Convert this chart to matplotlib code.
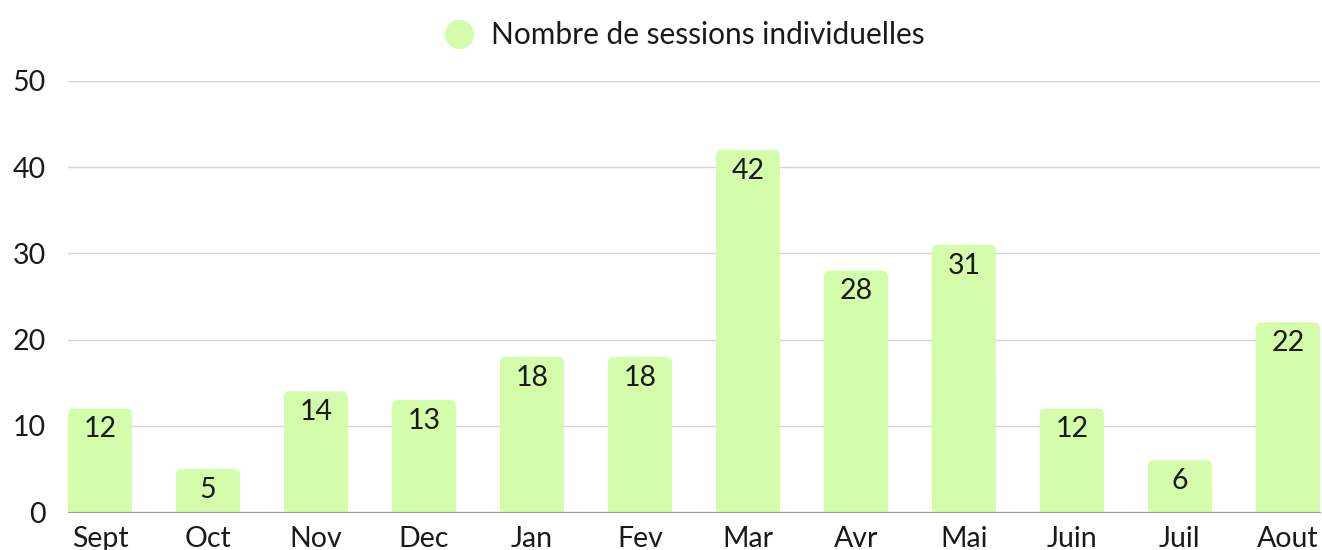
import matplotlib.pyplot as plt
from matplotlib.patches import FancyBboxPatch, Rectangle
from matplotlib.lines import Line2D

months = ["Sept", "Oct", "Nov", "Dec", "Jan", "Fev", "Mar", "Avr", "Mai", "Juin", "Juil", "Aout"]
sessions = [12, 5, 14, 13, 18, 18, 42, 28, 31, 12, 6, 22]
yticks = [0, 10, 20, 30, 40, 50]

bar_color = "#d3fcab"
text_color = "#1a1a1a"

plt.rcParams['font.family'] = ['Lato', 'DejaVu Sans']

fig = plt.figure(figsize=(13.22, 5.5), dpi=100)
ax = fig.add_axes([0.0514, 0.069, 0.947, 0.784])

xs = list(range(len(months)))
bars = ax.bar(xs, sessions, width=0.593, color="none")

ax.set_xlim(-0.2965, len(months) - 1 + 0.2965)
ax.set_ylim(0, 50)

# px -> data conversion for rounding
ax_w = 0.947 * 1322
ax_h = 0.784 * 550
xpp = (ax.get_xlim()[1] - ax.get_xlim()[0]) / ax_w
ypp = 50 / ax_h
r = 6 * xpp

for b in bars:
    x, w, h = b.get_x(), b.get_width(), b.get_height()
    p = FancyBboxPatch((x, 0), w, h, boxstyle="round,pad=0,rounding_size=%f" % r,
                       mutation_aspect=ypp / xpp, fc=bar_color, ec="none", zorder=3)
    ax.add_patch(p)
    ax.add_patch(Rectangle((x, 0), w, h / 2, fc=bar_color, ec="none", zorder=3))
    ax.annotate(str(int(h)), (x + w / 2, h), xytext=(0, -15), textcoords="offset points",
                ha="center", va="center", fontsize=20.5, color=text_color, zorder=4)

ax.set_yticks(yticks)
ax.yaxis.grid(True, color="#d6d6d6", linewidth=1)
ax.set_axisbelow(True)
ax.set_xticks(xs)
ax.set_xticklabels(months)
ax.tick_params(axis="both", length=0, labelsize=20.5, colors=text_color)
ax.tick_params(axis="x", pad=10)
ax.tick_params(axis="y", pad=16)
for s in ["top", "right", "left"]:
    ax.spines[s].set_visible(False)
ax.spines["bottom"].set_color("#9a9a9a")
ax.spines["bottom"].set_zorder(5)

handle = Line2D([], [], marker="o", linestyle="none", markersize=20,
                markerfacecolor=bar_color, markeredgecolor=bar_color)
fig.legend([handle], ["Nombre de sessions individuelles"], loc="upper center",
           bbox_to_anchor=(0.512, 1.01), frameon=False, fontsize=21.5,
           handletextpad=0.1, labelcolor=text_color)

fig.savefig("out.png", dpi=100)
